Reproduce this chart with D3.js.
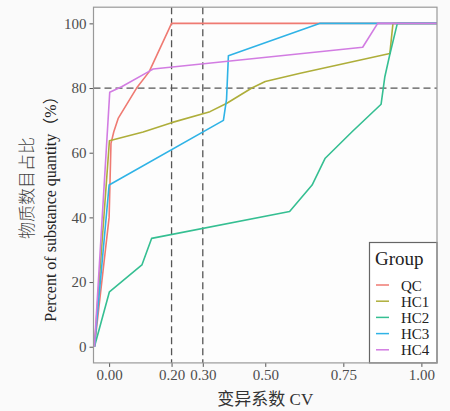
<html>
<head>
    <script src="https://d3js.org/d3.v7.min.js"></script>
    <style>
        body { margin: 0; background: #fafafa; }
        text { font-family: "Liberation Serif", "Noto Sans CJK SC", serif; }
        .axis .domain { stroke: none; }
        .axis line { stroke: #555; }
        .axis text { fill: #4d4d4d; font-size: 15px; }
    </style>
</head>
<body>
<svg id="chartArea" width="450" height="411"></svg>
<script>
    // series (CV, percent)
    const groups = ["QC", "HC1", "HC2", "HC3", "HC4"];
    const colors = ["#ef7a72", "#aeae3a", "#35bf92", "#2fb3e6", "#d27ce2"];

    const qcCV  = [-0.047, 0.0, 0.006, 0.015, 0.029, 0.088, 0.128, 0.2, 1.05];
    const qcPct = [0, 40, 62.9, 66.5, 70.6, 80, 85, 100, 100];

    const hc1CV  = [-0.047, 0.001, 0.109, 0.2, 0.323, 0.377, 0.457, 0.5, 0.612, 0.899, 0.909, 1.05];
    const hc1Pct = [0, 63.7, 66.4, 69.3, 72.7, 75.3, 80, 82, 84.6, 90.7, 100, 100];

    const hc2CV  = [-0.047, 0.001, 0.105, 0.136, 0.578, 0.65, 0.692, 0.778, 0.871, 0.883, 0.898, 0.923, 1.05];
    const hc2Pct = [0, 17, 25.3, 33.5, 41.8, 50, 58.3, 66.5, 75, 83.5, 90, 100, 100];

    const hc3CV  = [-0.047, 0.0, 0.366, 0.376, 0.382, 0.676, 1.05];
    const hc3Pct = [0, 50, 70, 76.5, 90, 100, 100];

    const hc4CV  = [-0.047, 0.002, 0.04, 0.125, 0.141, 0.812, 0.86, 1.05];
    const hc4Pct = [0, 78.7, 80.4, 85, 85.9, 92.6, 100, 100];

    const xTicks = [0, 0.2, 0.3, 0.5, 0.75, 1.0];
    const yTicks = [0, 20, 40, 60, 80, 100];
    const refCV = [0.2, 0.3];
    const refPct = [80];

    const series = [
        { group: "QC", cv: qcCV, pct: qcPct },
        { group: "HC1", cv: hc1CV, pct: hc1Pct },
        { group: "HC2", cv: hc2CV, pct: hc2Pct },
        { group: "HC3", cv: hc3CV, pct: hc3Pct },
        { group: "HC4", cv: hc4CV, pct: hc4Pct }
    ];

    const svg = d3.select("#chartArea");
    const panel = { left: 93.5, right: 437, top: 7.2, bottom: 362.9 };

    const xScale = d3.scaleLinear().domain([-0.05, 1.05]).range([panel.left, panel.right]);
    const yScale = d3.scaleLinear().domain([-5, 105]).range([panel.bottom, panel.top]);
    const colorScale = d3.scaleOrdinal().domain(groups).range(colors);

    // panel
    svg.append("rect")
        .attr("x", panel.left).attr("y", panel.top)
        .attr("width", panel.right - panel.left).attr("height", panel.bottom - panel.top)
        .attr("fill", "#fdfdfd");

    // axes
    svg.append("g")
        .attr("class", "y axis")
        .attr("transform", `translate(${panel.left},0)`)
        .call(d3.axisLeft(yScale).tickValues(yTicks).tickSize(4).tickPadding(3));

    svg.append("g")
        .attr("class", "x axis")
        .attr("transform", `translate(0,${panel.bottom})`)
        .call(d3.axisBottom(xScale).tickValues(xTicks).tickFormat(d3.format(".2f")).tickSize(4).tickPadding(2));

    // reference lines
    svg.selectAll(".vref")
        .data(refCV)
        .join("line")
        .attr("x1", d => xScale(d)).attr("x2", d => xScale(d))
        .attr("y1", panel.top).attr("y2", panel.bottom)
        .attr("stroke", "#555").attr("stroke-width", 1.3)
        .attr("stroke-dasharray", "7,4");

    svg.selectAll(".href")
        .data(refPct)
        .join("line")
        .attr("x1", panel.left).attr("x2", panel.right)
        .attr("y1", d => yScale(d)).attr("y2", d => yScale(d))
        .attr("stroke", "#555").attr("stroke-width", 1.3)
        .attr("stroke-dasharray", "7,4");

    // lines
    const lineGenerator = d3.line()
        .x(d => xScale(d[0]))
        .y(d => yScale(d[1]));

    svg.append("g")
        .selectAll("path")
        .data(series)
        .join("path")
        .attr("d", d => lineGenerator(d3.zip(d.cv, d.pct)))
        .attr("fill", "none")
        .attr("stroke", d => colorScale(d.group))
        .attr("stroke-width", 1.6)
        .attr("stroke-linejoin", "round");

    // legend
    const legend = svg.append("g");
    legend.append("rect")
        .attr("x", 369.5).attr("y", 242.5)
        .attr("width", panel.right - 369.5).attr("height", panel.bottom - 242.5)
        .attr("fill", "#fff").attr("stroke", "#666").attr("stroke-width", 1.2);

    legend.append("text")
        .attr("x", 375).attr("y", 265)
        .style("font-size", "19px").attr("fill", "#222")
        .text("Group");

    const items = legend.selectAll(".item")
        .data(groups)
        .join("g")
        .attr("class", "item")
        .attr("transform", (d, i) => `translate(0,${285 + i * 16.2})`);

    items.append("line")
        .attr("x1", 376).attr("x2", 389)
        .attr("stroke", d => colorScale(d)).attr("stroke-width", 1.5);

    items.append("text")
        .attr("x", 401).attr("y", 5.5)
        .style("font-size", "15px").attr("fill", "#222")
        .text(d => d);

    // panel border
    svg.append("rect")
        .attr("x", panel.left).attr("y", panel.top)
        .attr("width", panel.right - panel.left).attr("height", panel.bottom - panel.top)
        .attr("fill", "none").attr("stroke", "#999").attr("stroke-width", 1.2);

    // axis titles
    svg.append("text")
        .attr("x", (panel.left + panel.right) / 2).attr("y", 405)
        .attr("text-anchor", "middle")
        .style("font-size", "17px").attr("fill", "#333")
        .text("变异系数 CV");

    svg.append("text")
        .attr("transform", `translate(33,188) rotate(-90)`)
        .attr("text-anchor", "middle")
        .style("font-size", "17px").style("font-weight", 300).attr("fill", "#444")
        .text("物质数目占比");

    svg.append("text")
        .attr("transform", `translate(56,205) rotate(-90)`)
        .attr("text-anchor", "middle")
        .style("font-size", "16px").attr("fill", "#222")
        .text("Percent of substance quantity（%）");
</script>
</body>
</html>
